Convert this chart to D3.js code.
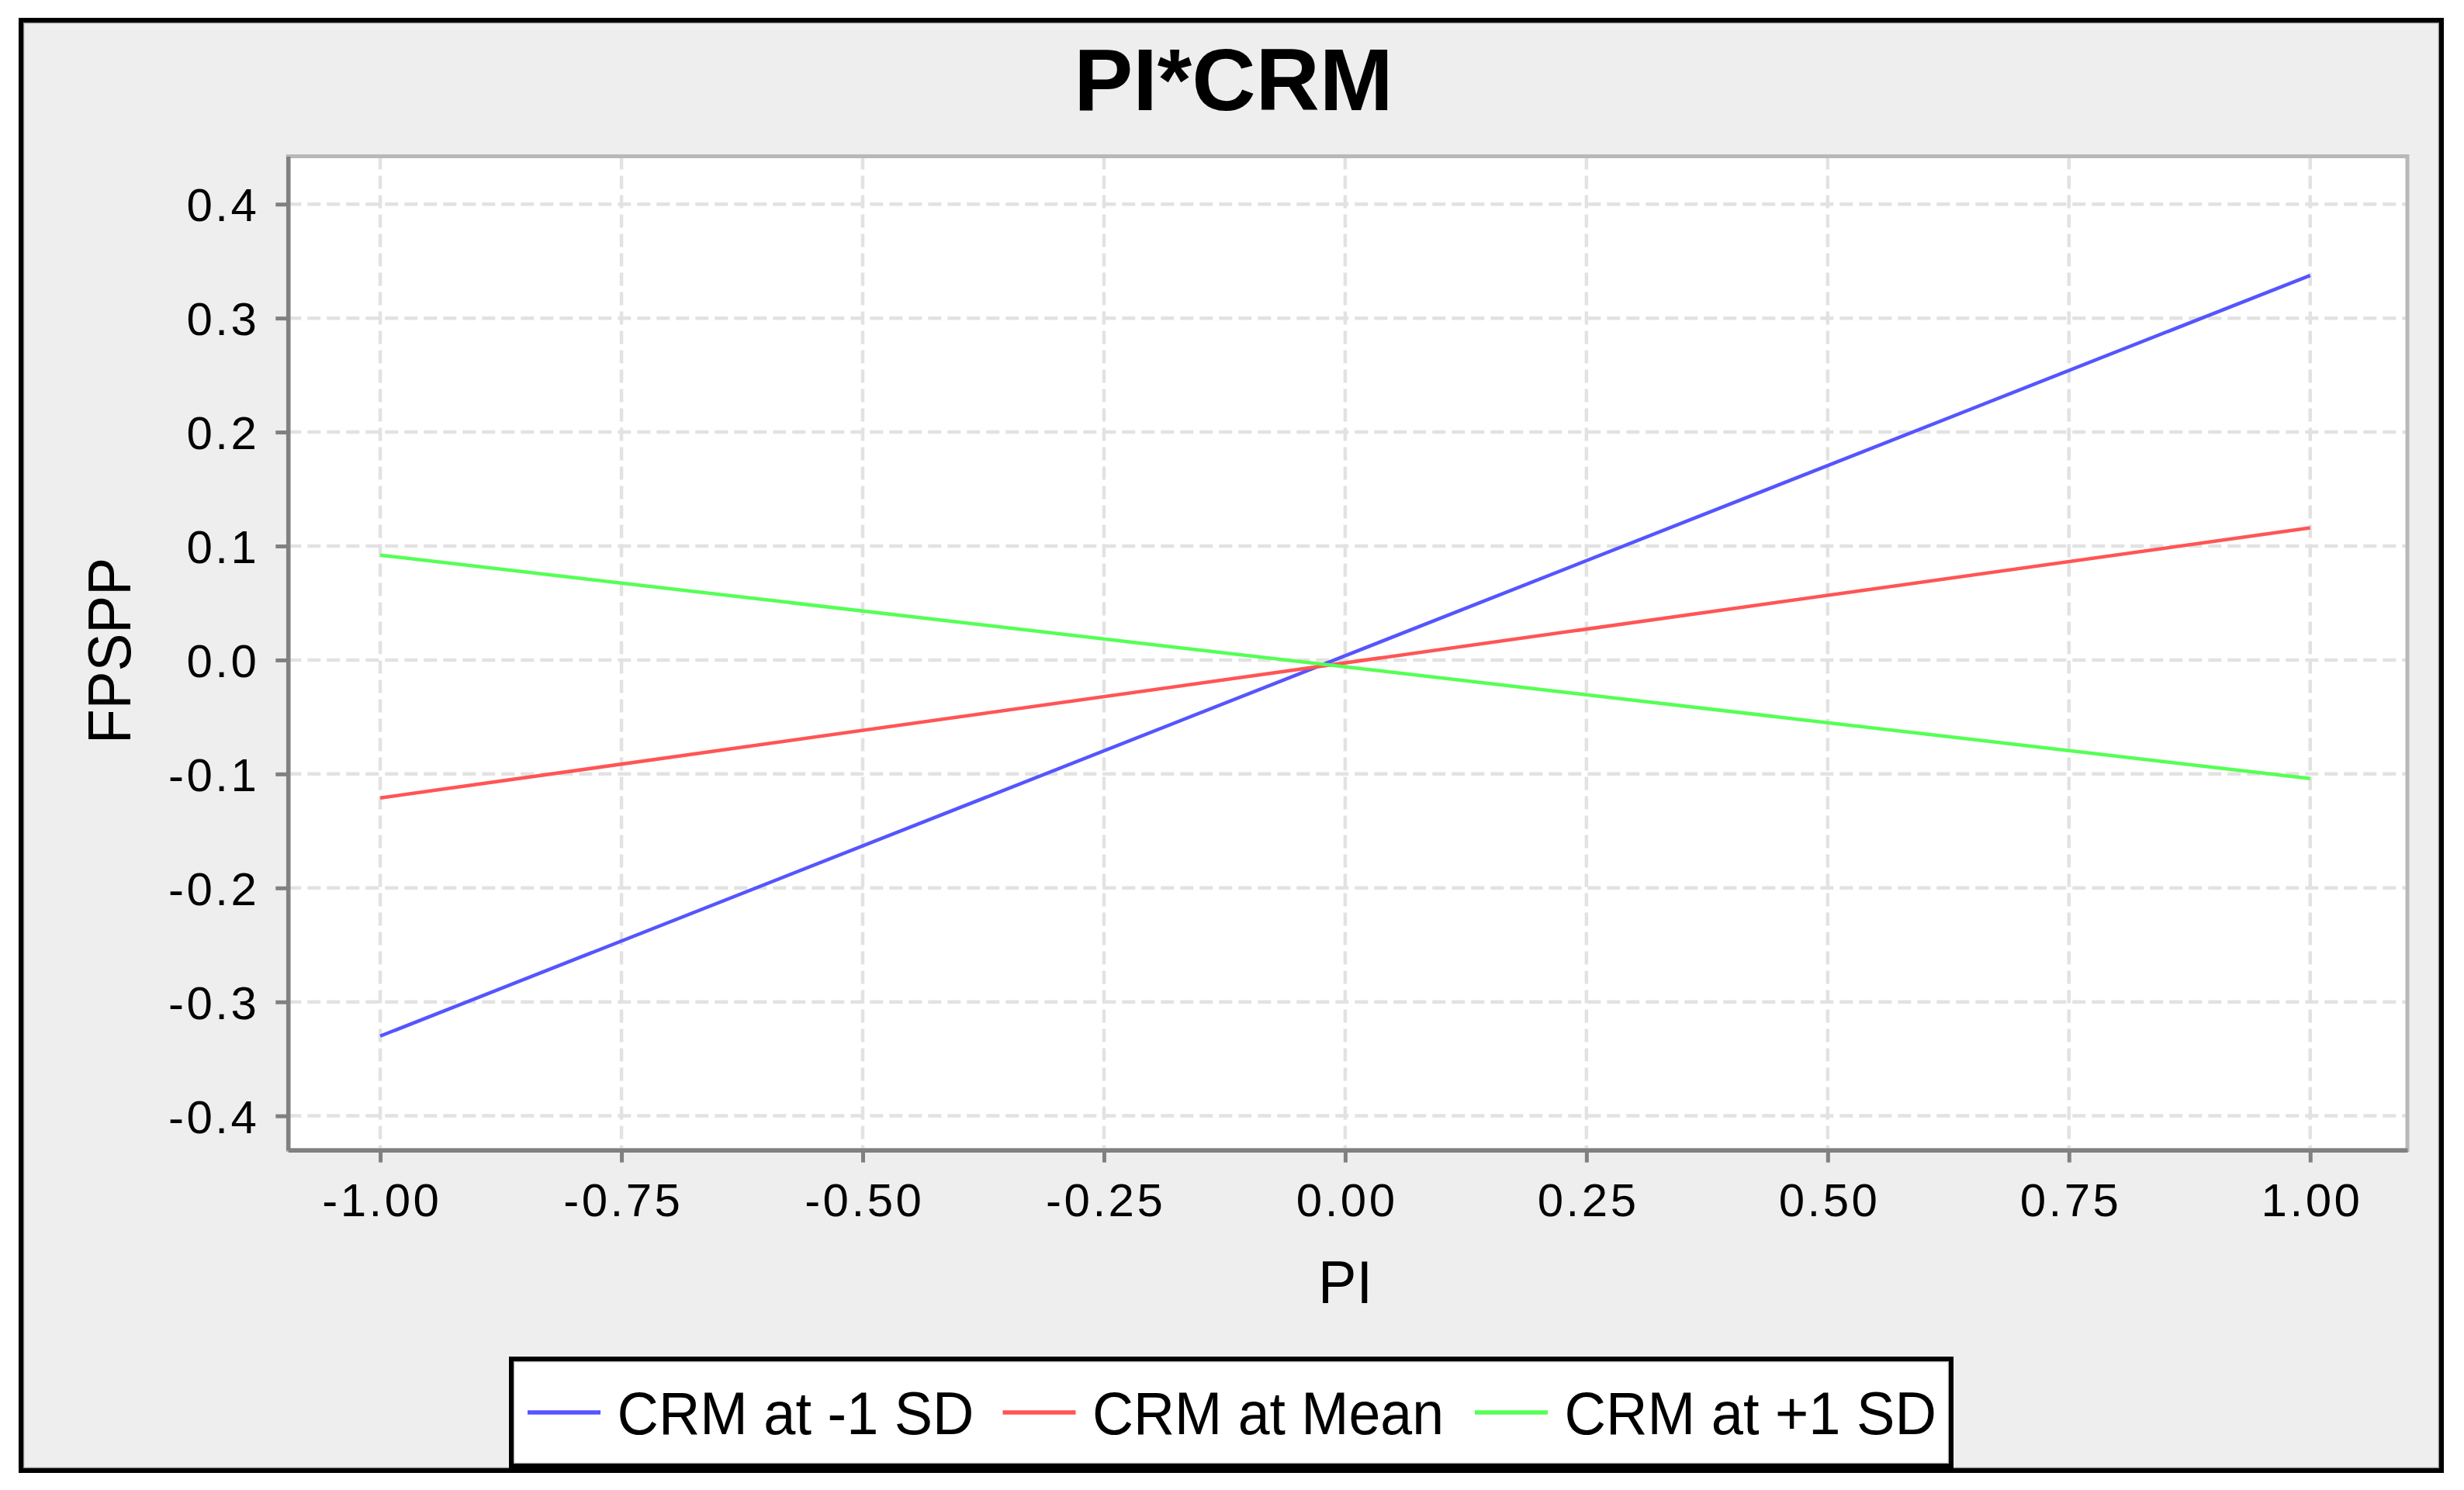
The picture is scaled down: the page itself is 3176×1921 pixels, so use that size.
<!DOCTYPE html>
<html>
<head>
<meta charset="utf-8">
<script src="https://cdn.jsdelivr.net/npm/d3@7"></script>
<style>
  html, body { margin: 0; padding: 0; background: #ffffff; }
  svg { display: block; }
</style>
</head>
<body>
<svg id="chart" width="3176" height="1921"></svg>
<script>
// ---------------- data ----------------
const chartTitle = "PI*CRM";
const xLabel = "PI";
const yLabel = "FPSPP";
const xValues = [-1, 1];
const seriesNames = ["CRM at -1 SD", "CRM at Mean", "CRM at +1 SD"];
const crmLow  = [-0.330, 0.3375];
const crmMean = [-0.121, 0.116];
const crmHigh = [0.092, -0.104];
const seriesColors = ["#5555ff", "#ff5555", "#55ff55"];
const xTicks = [-1.00, -0.75, -0.50, -0.25, 0.00, 0.25, 0.50, 0.75, 1.00];
const xTickLabels = ["-1.00", "-0.75", "-0.50", "-0.25", "0.00", "0.25", "0.50", "0.75", "1.00"];
const yTicks = [0.4, 0.3, 0.2, 0.1, 0.0, -0.1, -0.2, -0.3, -0.4];
const yTickLabels = ["0.4", "0.3", "0.2", "0.1", "0.0", "-0.1", "-0.2", "-0.3", "-0.4"];

const seriesValues = [crmLow, crmMean, crmHigh];

// ---------------- layout ----------------
const svg = d3.select("#chart");
const plot = { left: 371.3, right: 3103, top: 201.5, bottom: 1482.7 };
const FONT = "'Liberation Sans', Arial, Helvetica, sans-serif";

// outer frame
svg.append("rect").attr("x", 27).attr("y", 26).attr("width", 3120).attr("height", 1870)
  .attr("fill", "#eeeeee").attr("stroke", "#000").attr("stroke-width", 6);
svg.append("rect").attr("x", 30.6).attr("y", 29.6).attr("width", 3112.8).attr("height", 1862.8)
  .attr("fill", "none").attr("stroke", "#8a8a8a").attr("stroke-width", 1.2);

const x = d3.scaleLinear().domain([-1.0955, 1.1007]).range([plot.left, plot.right]);
const y = d3.scaleLinear().domain([-0.43, 0.442]).range([plot.bottom, plot.top]);

// plot background
svg.append("rect").attr("x", plot.left).attr("y", plot.top)
  .attr("width", plot.right - plot.left).attr("height", plot.bottom - plot.top)
  .attr("fill", "#ffffff");

// gridlines
const grid = svg.append("g").attr("stroke", "#e2e2e2").attr("stroke-width", 4.5)
  .attr("stroke-dasharray", "17 8");
grid.selectAll("line.v").data(xTicks).join("line").attr("class", "v")
  .attr("x1", d => x(d)).attr("x2", d => x(d))
  .attr("y1", plot.top).attr("y2", plot.bottom);
grid.selectAll("line.h").data(yTicks).join("line").attr("class", "h")
  .attr("x1", plot.left).attr("x2", plot.right)
  .attr("y1", d => y(d)).attr("y2", d => y(d));

// data lines
const lineGen = d3.line().x((d, i) => x(xValues[i])).y(d => y(d));
svg.append("g").selectAll("path").data(seriesValues).join("path")
  .attr("d", d => lineGen(d))
  .attr("fill", "none")
  .attr("stroke", (d, i) => seriesColors[i])
  .attr("stroke-width", 4.5);

// plot outline (top/right light gray)
svg.append("rect").attr("x", plot.left).attr("y", plot.top)
  .attr("width", plot.right - plot.left).attr("height", plot.bottom - plot.top)
  .attr("fill", "none").attr("stroke", "#b8b8b8").attr("stroke-width", 5);

// axes
const yAxis = d3.axisLeft(y).tickValues(yTicks)
  .tickFormat((d, i) => yTickLabels[i]).tickSizeInner(16).tickSizeOuter(0).tickPadding(21);
const gy = svg.append("g").attr("transform", `translate(${plot.left},0)`).call(yAxis);
gy.select(".domain").attr("stroke", "#808080").attr("stroke-width", 5.5);
gy.selectAll(".tick line").attr("stroke", "#808080").attr("stroke-width", 5);
gy.selectAll(".tick text").attr("font-family", FONT).attr("font-size", 60)
  .attr("letter-spacing", 3.5).attr("fill", "#000").attr("dy", "0.36em");

const xAxis = d3.axisBottom(x).tickValues(xTicks)
  .tickFormat((d, i) => xTickLabels[i]).tickSizeInner(16).tickSizeOuter(0).tickPadding(26);
const gx = svg.append("g").attr("transform", `translate(0,${plot.bottom})`).call(xAxis);
gx.select(".domain").attr("stroke", "#808080").attr("stroke-width", 5.5);
gx.selectAll(".tick line").attr("stroke", "#808080").attr("stroke-width", 5);
gx.selectAll(".tick text").attr("font-family", FONT).attr("font-size", 60)
  .attr("letter-spacing", 3.5).attr("fill", "#000")
  .attr("y", 85.3).attr("dy", 0).attr("dx", 1.75);

// title
svg.append("text").attr("x", 1590).attr("y", 142).attr("text-anchor", "middle")
  .attr("font-family", FONT).attr("font-weight", "bold").attr("font-size", 114)
  .attr("fill", "#000").text(chartTitle);

// axis labels
svg.append("text").attr("transform", "translate(168,839) rotate(-90)")
  .attr("text-anchor", "middle").attr("font-family", FONT).attr("font-size", 78)
  .attr("textLength", 240).attr("lengthAdjust", "spacingAndGlyphs")
  .attr("fill", "#000").text(yLabel);
svg.append("text").attr("x", 1734).attr("y", 1680).attr("text-anchor", "middle")
  .attr("font-family", FONT).attr("font-size", 78)
  .attr("textLength", 70).attr("lengthAdjust", "spacingAndGlyphs")
  .attr("fill", "#000").text(xLabel);

// legend
const legendBox = { x: 659, y: 1752, w: 1856, h: 138 };
svg.append("rect").attr("x", legendBox.x).attr("y", legendBox.y)
  .attr("width", legendBox.w).attr("height", legendBox.h)
  .attr("fill", "#ffffff").attr("stroke", "#000").attr("stroke-width", 6);
svg.append("rect").attr("x", legendBox.x + 3.6).attr("y", legendBox.y + 3.6)
  .attr("width", legendBox.w - 7.2).attr("height", legendBox.h - 7.2)
  .attr("fill", "none").attr("stroke", "#b0b0b0").attr("stroke-width", 1.2);

const legendTextLengths = [460, 453, 479.5];
const legendGapsBefore = [21, 37, 40];
let cx = 680;
const legendItems = [];
seriesNames.forEach((name, i) => {
  if (i > 0) cx += legendGapsBefore[i];
  const lineX1 = cx, lineX2 = cx + 94;
  const textX = lineX2 + 21.5;
  legendItems.push({ name, color: seriesColors[i], lineX1, lineX2, textX, len: legendTextLengths[i] });
  cx = textX + legendTextLengths[i];
});
const lg = svg.append("g");
lg.selectAll("line").data(legendItems).join("line")
  .attr("x1", d => d.lineX1).attr("x2", d => d.lineX2)
  .attr("y1", 1821).attr("y2", 1821)
  .attr("stroke", d => d.color).attr("stroke-width", 5.5);
lg.selectAll("text").data(legendItems).join("text")
  .attr("x", d => d.textX).attr("y", 1849)
  .attr("font-family", FONT).attr("font-size", 78)
  .attr("textLength", d => d.len).attr("lengthAdjust", "spacingAndGlyphs")
  .attr("fill", "#000").text(d => d.name);
</script>
</body>
</html>
